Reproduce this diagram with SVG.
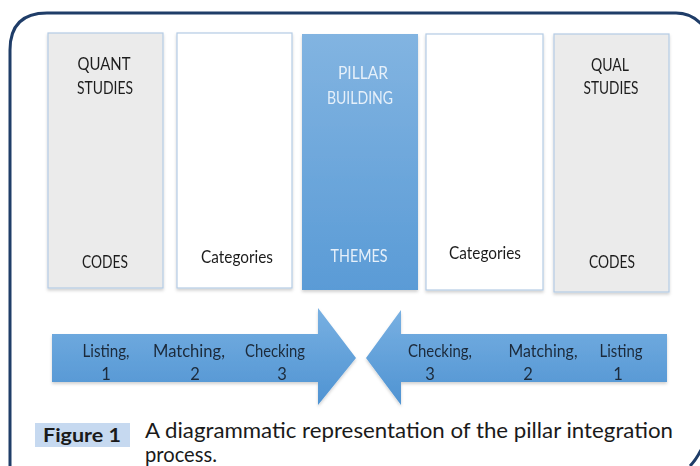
<svg xmlns="http://www.w3.org/2000/svg" width="700" height="466" viewBox="0 0 700 466">
  <style>
    text { font-family: Lato, "Liberation Sans", Arial, sans-serif; }
    .lbl { font-size: 16.5px; fill: #1e1e1e; text-anchor: middle; }
    .lbl-w { font-size: 16.5px; fill: #e6f0fa; text-anchor: middle; }
    .arr-t { font-size: 16.5px; fill: #1c2a3a; text-anchor: middle; }
    .grey { fill: #ebebeb; stroke: #b4cbe4; stroke-width: 1.2; }
    .white { fill: #ffffff; stroke: #b4cbe4; stroke-width: 1.2; }
    .cap { font-size: 20.5px; fill: #1a1a1a; }
  </style>
  <defs>
    <linearGradient id="pillarGrad" x1="0" y1="0" x2="0" y2="1">
      <stop offset="0" stop-color="#82b4e1"/>
      <stop offset="1" stop-color="#5a9bd6"/>
    </linearGradient>
    <linearGradient id="arrowGrad" x1="0" y1="0" x2="0" y2="1">
      <stop offset="0" stop-color="#78b0e2"/>
      <stop offset="1" stop-color="#4f93d2"/>
    </linearGradient>
    <filter id="shadow" x="-10%" y="-10%" width="120%" height="130%">
      <feDropShadow dx="0" dy="2" stdDeviation="1.5" flood-color="#000" flood-opacity="0.18"/>
    </filter>
  </defs>

  <rect width="700" height="466" fill="#ffffff"/>

  <!-- outer frame -->
  <path d="M10,470 L10,50 Q10,13 47,13 L676,13 Q703,13 716,50 L716,420 M690,466 Q696,460 701,450"
        fill="none" stroke="#1f3d68" stroke-width="3"/>

  <!-- columns -->
  <g id="quant" filter="url(#shadow)">
    <rect class="grey" x="48" y="33" width="115" height="255"/>
    <text class="lbl" x="104" y="70" textLength="53" lengthAdjust="spacingAndGlyphs">QUANT</text>
    <text class="lbl" x="105" y="94" textLength="56" lengthAdjust="spacingAndGlyphs">STUDIES</text>
    <text class="lbl" x="105" y="268" textLength="46" lengthAdjust="spacingAndGlyphs">CODES</text>
  </g>
  <g id="categories-left" filter="url(#shadow)">
    <rect class="white" x="177" y="33" width="115" height="255"/>
    <text class="lbl" x="237" y="263" textLength="72" lengthAdjust="spacingAndGlyphs">Categories</text>
  </g>
  <g id="pillar" filter="url(#shadow)">
    <rect x="302" y="34" width="116" height="256" fill="url(#pillarGrad)"/>
    <text class="lbl-w" x="363" y="79" textLength="50" lengthAdjust="spacingAndGlyphs">PILLAR</text>
    <text class="lbl-w" x="360" y="104" textLength="66" lengthAdjust="spacingAndGlyphs">BUILDING</text>
    <text class="lbl-w" x="359" y="262" textLength="57" lengthAdjust="spacingAndGlyphs">THEMES</text>
  </g>
  <g id="categories-right" filter="url(#shadow)">
    <rect class="white" x="426" y="34" width="117" height="256"/>
    <text class="lbl" x="485" y="259" textLength="72" lengthAdjust="spacingAndGlyphs">Categories</text>
  </g>
  <g id="qual" filter="url(#shadow)">
    <rect class="grey" x="554" y="34" width="115" height="258"/>
    <text class="lbl" x="610" y="71" textLength="38" lengthAdjust="spacingAndGlyphs">QUAL</text>
    <text class="lbl" x="611" y="94" textLength="55" lengthAdjust="spacingAndGlyphs">STUDIES</text>
    <text class="lbl" x="612" y="268" textLength="46" lengthAdjust="spacingAndGlyphs">CODES</text>
  </g>

  <!-- process arrows -->
  <g id="connectors">
    <g id="arrow-left" filter="url(#shadow)">
      <polygon points="52,334 318,334 318,308 356,358 318,405 318,382 52,382" fill="url(#arrowGrad)"/>
      <text class="arr-t" x="106" y="357" textLength="47" lengthAdjust="spacingAndGlyphs">Listing,</text>
      <text class="arr-t" x="106" y="380">1</text>
      <text class="arr-t" x="189" y="357" textLength="72" lengthAdjust="spacingAndGlyphs">Matching,</text>
      <text class="arr-t" x="195" y="380">2</text>
      <text class="arr-t" x="275" y="357" textLength="60" lengthAdjust="spacingAndGlyphs">Checking</text>
      <text class="arr-t" x="282" y="380">3</text>
    </g>
    <g id="arrow-right" filter="url(#shadow)">
      <polygon points="667,334 401,334 401,310 366,358 401,405 401,382 667,382" fill="url(#arrowGrad)"/>
      <text class="arr-t" x="440" y="357" textLength="64" lengthAdjust="spacingAndGlyphs">Checking,</text>
      <text class="arr-t" x="430" y="380">3</text>
      <text class="arr-t" x="543" y="357" textLength="69" lengthAdjust="spacingAndGlyphs">Matching,</text>
      <text class="arr-t" x="528" y="380">2</text>
      <text class="arr-t" x="621" y="357" textLength="43" lengthAdjust="spacingAndGlyphs">Listing</text>
      <text class="arr-t" x="618" y="380">1</text>
    </g>
  </g>

  <!-- caption -->
  <g id="caption">
    <rect x="35" y="423" width="95" height="24" fill="#c6d9f0"/>
    <text x="82" y="442" text-anchor="middle" font-size="18.5" font-weight="bold" fill="#1a1a1a" textLength="78" lengthAdjust="spacingAndGlyphs">Figure 1</text>
    <text class="cap" x="145" y="438" textLength="528" lengthAdjust="spacingAndGlyphs">A diagrammatic representation of the pillar integration</text>
    <text class="cap" x="145" y="462" textLength="72" lengthAdjust="spacingAndGlyphs">process.</text>
  </g>
</svg>
